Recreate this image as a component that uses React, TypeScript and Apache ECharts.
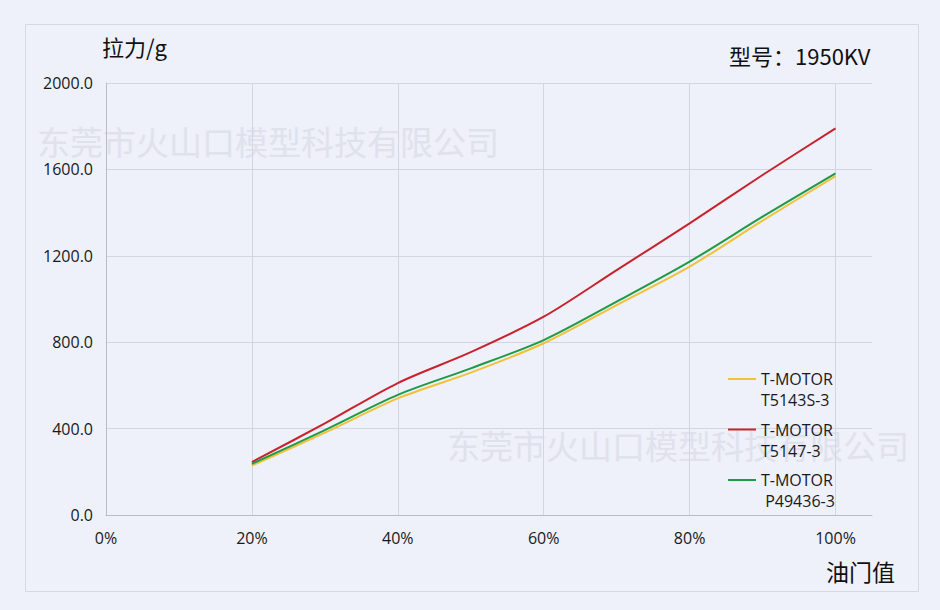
import React, { useEffect, useRef } from "react";
import * as echarts from "echarts";

const throttle = [0.2, 0.3, 0.4, 0.5, 0.6, 0.7, 0.8, 0.9, 1.0];
const seriesNames = ["T-MOTOR\nT5143S-3", "T-MOTOR\nT5147-3", "T-MOTOR\n P49436-3"];
const t5143s = [229, 381, 540, 659, 795, 972, 1150, 1363, 1569];
const t5147 = [245, 424, 611, 754, 918, 1134, 1350, 1574, 1790];
const p49436 = [237, 393, 556, 679, 810, 988, 1173, 1381, 1582];
const colors = ["#f0c23c", "#c8232c", "#1f9a45"];
const yTicks = [0, 400, 800, 1200, 1600, 2000];
const xTicks = [0, 0.2, 0.4, 0.6, 0.8, 1.0];

const FONT = "'Open Sans', 'Noto Sans CJK SC', sans-serif";
const CJK = "'Noto Sans CJK SC', sans-serif";

export default function App() {
  const ref = useRef<HTMLDivElement>(null);
  useEffect(() => {
    document.body.style.margin = "0";
    const chart = echarts.init(ref.current!, undefined, { renderer: "svg" });
    const seriesData = [t5143s, t5147, p49436];
    const L = 21;
    chart.setOption({
      animation: false,
      backgroundColor: "#eef0fa",
      grid: { left: 106, top: 83, right: 68, bottom: 95, containLabel: false },
      xAxis: {
        type: "value",
        min: 0,
        max: 1.05,
        interval: 0.2,
        axisLine: { show: true, lineStyle: { color: "#b9bcc8", width: 1 } },
        axisTick: { show: false },
        axisLabel: {
          margin: 15,
          fontFamily: FONT,
          fontSize: 16,
          color: "#1a1a1a",
          formatter: (v: number) => {
            const hit = xTicks.find((t) => Math.abs(t - v) < 1e-6);
            return hit === undefined ? "" : Math.round(hit * 100) + "%";
          },
        },
        splitLine: {
          show: true,
          showMinLine: false,
          showMaxLine: false,
          lineStyle: { color: "#d3d6e2", width: 1 },
        },
      },
      yAxis: {
        type: "value",
        min: yTicks[0],
        max: yTicks[yTicks.length - 1],
        interval: 400,
        axisLine: { show: true, lineStyle: { color: "#b9bcc8", width: 1 } },
        axisTick: { show: false },
        axisLabel: {
          margin: 13,
          fontFamily: FONT,
          fontSize: 16,
          color: "#1a1a1a",
          formatter: (v: number) => v.toFixed(1),
        },
        splitLine: { show: true, lineStyle: { color: "#d3d6e2", width: 1 } },
      },
      legend: {
        orient: "vertical",
        left: 728,
        top: 379 - (3 * L) / 2,
        padding: 0,
        icon: "rect",
        itemWidth: 28,
        itemHeight: 2,
        itemGap: 50.5 - 3 * L,
        data: seriesNames,
        formatter: (name: string) => " \n" + name,
        textStyle: {
          fontFamily: FONT,
          fontSize: 16,
          lineHeight: L,
          color: "#1a1a1a",
        },
      },
      series: seriesNames.map((name, i) => ({
        name,
        type: "line",
        smooth: 0.3,
        symbol: "none",
        lineStyle: { color: colors[i], width: 2 },
        itemStyle: { color: colors[i] },
        data: throttle.map((x, j) => [x, seriesData[i][j]]),
      })),
      graphic: [
        {
          type: "rect",
          shape: { x: 25.5, y: 24.5, width: 893, height: 567 },
          style: { fill: "none", stroke: "#d5d8e4", lineWidth: 1 },
          silent: true,
          z: -10,
        },
        {
          type: "text",
          left: 37,
          top: 124,
          z: -5,
          silent: true,
          style: {
            text: "东莞市火山口模型科技有限公司",
            font: `33px ${CJK}`,
            fill: "#dfe2ec",
          },
        },
        {
          type: "text",
          left: 447,
          top: 428,
          z: -5,
          silent: true,
          style: {
            text: "东莞市火山口模型科技有限公司",
            font: `33px ${CJK}`,
            fill: "#dfe2ec",
          },
        },
        {
          type: "text",
          left: 102,
          top: 35,
          style: { text: "拉力/g", font: `22px ${CJK}`, fill: "#111" },
        },
        {
          type: "text",
          left: 729,
          top: 44,
          style: { text: "型号：1950KV", font: `22px ${CJK}`, fill: "#111" },
        },
        {
          type: "text",
          left: 826,
          top: 559,
          style: { text: "油门值", font: `23px ${CJK}`, fill: "#111" },
        },
      ],
    });
    return () => chart.dispose();
  }, []);
  return <div ref={ref} style={{ width: 940, height: 610 }} />;
}
